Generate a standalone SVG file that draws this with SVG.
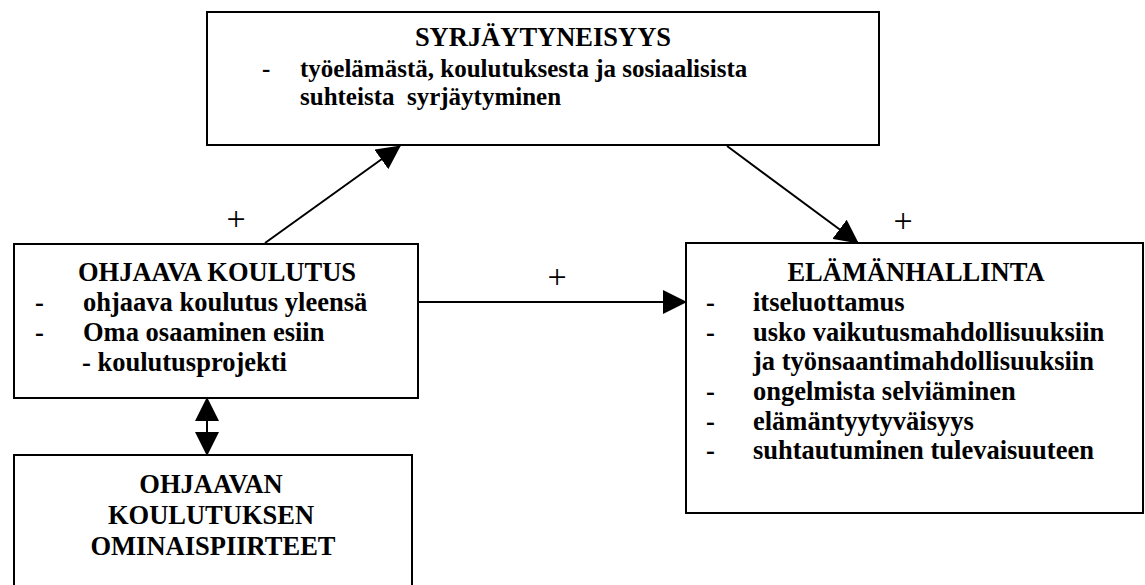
<svg xmlns="http://www.w3.org/2000/svg" width="1145" height="585" viewBox="0 0 1145 585">
<style>
.box{fill:#fff;stroke:#000;stroke-width:2}
.t{font-family:"Liberation Serif","Times New Roman",serif;font-weight:bold;font-size:26.5px;fill:#000}
.s{font-size:25px}
.c{text-anchor:middle}
.plus{font-family:"Liberation Serif","Times New Roman",serif;font-size:34px;fill:#000;text-anchor:middle}
.ln{stroke:#000;stroke-width:2;fill:none}
</style>
<defs>
<marker id="ah" markerUnits="userSpaceOnUse" markerWidth="26" markerHeight="24" refX="23" refY="12" orient="auto-start-reverse" viewBox="0 0 26 24">
<path d="M0,0 L24,12 L0,24 Z" fill="#000"/>
</marker>
</defs>
<rect width="1145" height="585" fill="#fff"/>
<g id="syrjaytyneisyys">
<rect class="box" x="207" y="12" width="672" height="133"/>
<text class="t c" x="543" y="46">SYRJÄYTYNEISYYS</text>
<text class="t s" x="262" y="77">-</text>
<text class="t s" x="300" y="77">työelämästä, koulutuksesta ja sosiaalisista</text>
<text class="t s" x="300" y="105" xml:space="preserve">suhteista  syrjäytyminen</text>
</g>
<g id="ohjaava-koulutus">
<rect class="box" x="14" y="244" width="404" height="154"/>
<text class="t c" x="217" y="281">OHJAAVA KOULUTUS</text>
<text class="t" x="35" y="311">-</text>
<text class="t" x="83" y="311">ohjaava koulutus yleensä</text>
<text class="t" x="35" y="341">-</text>
<text class="t" x="83" y="341">Oma osaaminen esiin</text>
<text class="t" x="82" y="371">- koulutusprojekti</text>
</g>
<g id="ominaispiirteet">
<rect class="box" x="14" y="455" width="398" height="140"/>
<text class="t c" x="211" y="493">OHJAAVAN</text>
<text class="t c" x="211" y="524">KOULUTUKSEN</text>
<text class="t c" x="213" y="555">OMINAISPIIRTEET</text>
</g>
<g id="elamanhallinta">
<rect class="box" x="686" y="243" width="457" height="270"/>
<text class="t c" x="916" y="281">ELÄMÄNHALLINTA</text>
<text class="t" x="706" y="311">-</text>
<text class="t" x="753" y="311">itseluottamus</text>
<text class="t" x="706" y="341">-</text>
<text class="t" x="753" y="341">usko vaikutusmahdollisuuksiin</text>
<text class="t" x="753" y="370">ja työnsaantimahdollisuuksiin</text>
<text class="t" x="706" y="400">-</text>
<text class="t" x="753" y="400">ongelmista selviäminen</text>
<text class="t" x="706" y="430">-</text>
<text class="t" x="753" y="430">elämäntyytyväisyys</text>
<text class="t" x="706" y="459">-</text>
<text class="t" x="753" y="459">suhtautuminen tulevaisuuteen</text>
</g>
<g id="connectors">
<line class="ln" x1="265" y1="243" x2="400" y2="146" marker-end="url(#ah)"/>
<line class="ln" x1="727" y1="146" x2="858" y2="243" marker-end="url(#ah)"/>
<line class="ln" x1="418" y1="302" x2="686" y2="302" marker-end="url(#ah)"/>
<line class="ln" x1="207" y1="398" x2="207" y2="455" marker-start="url(#ah)" marker-end="url(#ah)"/>
<text class="plus" x="236" y="230">+</text>
<text class="plus" x="903" y="232">+</text>
<text class="plus" x="557" y="288">+</text>
</g>
</svg>
